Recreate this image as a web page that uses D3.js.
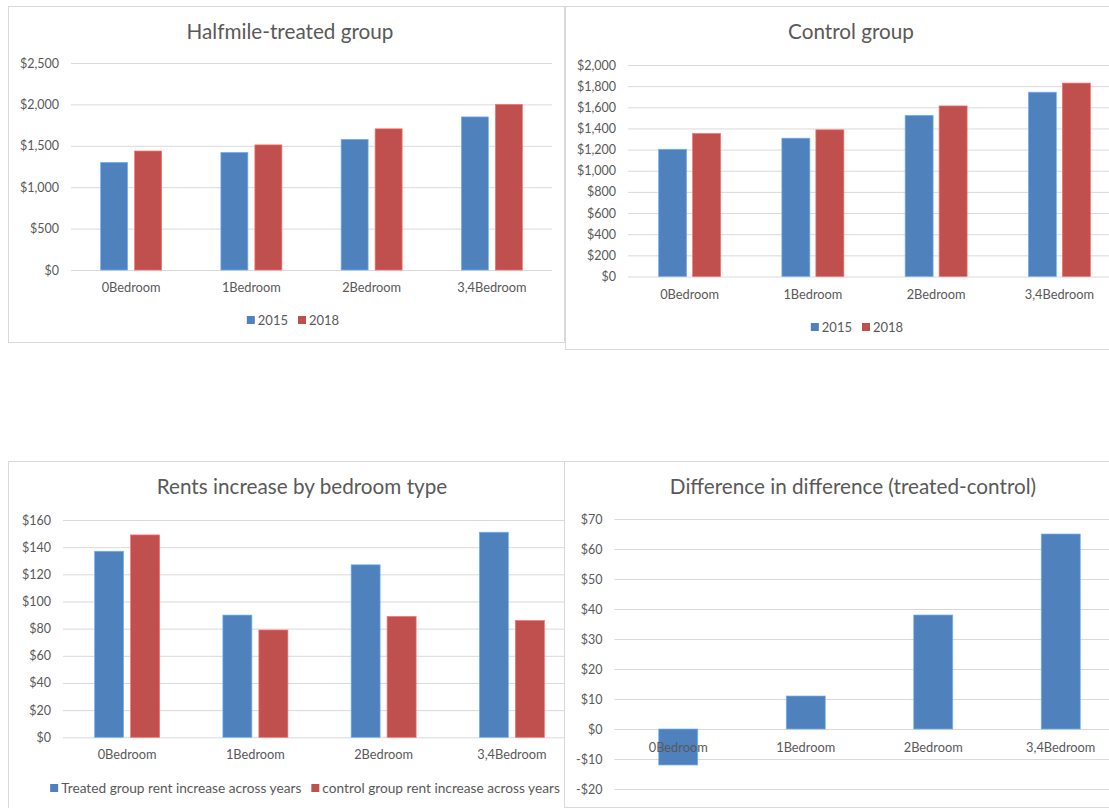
<!DOCTYPE html>
<html>
<head>
<meta charset="utf-8">
<script src="https://cdn.jsdelivr.net/npm/d3@7"></script>
<style>
  body { margin: 0; background: #fff; }
  svg text { font-family: Lato, "Open Sans", sans-serif; fill: #595959; }
</style>
</head>
<body>
<svg id="chart" width="1109" height="808"></svg>
<script>
// values
var categories = ["0Bedroom", "1Bedroom", "2Bedroom", "3,4Bedroom"];
var years = ["2015", "2018"];
var treated2015 = [1300, 1421, 1578, 1849];
var treated2018 = [1437, 1511, 1705, 2000];
var control2015 = [1203, 1308, 1524, 1743];
var control2018 = [1352, 1387, 1613, 1829];
var increaseNames = ["Treated group rent increase across years", "control group rent increase across years"];
var increaseTreated = [137, 90, 127, 151];
var increaseControl = [149, 79, 89, 86];
var diffInDiff = [-12, 11, 38, 65];

var treatedTicks = [0, 500, 1000, 1500, 2000, 2500];
var controlTicks = [0, 200, 400, 600, 800, 1000, 1200, 1400, 1600, 1800, 2000];
var increaseTicks = [0, 20, 40, 60, 80, 100, 120, 140, 160];
var diffTicks = [-20, -10, 0, 10, 20, 30, 40, 50, 60, 70];

var blue = "#4f81bd", red = "#c0504d";

var svg = d3.select("#chart");

function money(v) {
  return (v < 0 ? "-" : "") + "$" + d3.format(",")(Math.abs(v));
}

function drawPanel(p) {
  var g = svg.append("g");
  g.append("rect")
    .attr("x", p.box[0] + 0.5).attr("y", p.box[1] + 0.5)
    .attr("width", p.box[2]).attr("height", p.box[3])
    .attr("fill", "#fff").attr("stroke", "#d9d9d9");

  g.append("text")
    .attr("x", p.titleX).attr("y", p.titleY)
    .attr("dy", "0.35em")
    .style("font-size", "20.7px")
    .style("text-anchor", "middle")
    .text(p.title);

  var y = d3.scaleLinear()
    .domain([p.ticks[0], p.ticks[p.ticks.length - 1]])
    .range([p.bottom, p.top]);
  var x = d3.scaleBand().domain(categories).range([p.left, p.right]);
  var names = p.series.map(function (s) { return s.name; });
  var xs = d3.scaleBand().domain(names)
    .range([-p.groupWidth / 2, p.groupWidth / 2])
    .paddingInner(p.gap);

  var yAxis = g.append("g")
    .attr("transform", "translate(" + p.left + ",0)")
    .call(d3.axisLeft(y).tickValues(p.ticks).tickFormat(money)
      .tickSize(-(p.right - p.left)).tickPadding(12));
  yAxis.select(".domain").remove();
  yAxis.selectAll("line").attr("stroke", "#d9d9d9");
  yAxis.selectAll("text").style("font-size", "12.5px").attr("fill", "#595959");

  p.series.forEach(function (s) {
    g.append("g").selectAll("rect")
      .data(s.values)
      .enter().append("rect")
      .attr("x", function (d, i) { return x(categories[i]) + x.bandwidth() / 2 + xs(s.name); })
      .attr("y", function (d) { return y(Math.max(0, d)); })
      .attr("width", xs.bandwidth())
      .attr("height", function (d) { return Math.abs(y(d) - y(0)); })
      .attr("fill", s.color)
      .attr("stroke", d3.color(s.color).brighter(0.9))
      .attr("stroke-width", 0.7);
  });

  var xAxis = g.append("g")
    .attr("transform", "translate(0," + y(0) + ")")
    .call(d3.axisBottom(x).tickSize(0).tickPadding(p.labelPad));
  xAxis.select(".domain").remove();
  xAxis.selectAll("text").style("font-size", "12.8px").attr("fill", "#595959");

  if (p.legendY) {
    var leg = g.append("g");
    var cx = 0;
    p.series.forEach(function (s, i) {
      if (i > 0) cx += 10;
      leg.append("rect").attr("x", cx).attr("y", -4).attr("width", 8).attr("height", 8).attr("fill", s.color);
      var t = leg.append("text").attr("x", cx + 11).attr("y", 0).attr("dy", "0.35em")
        .style("font-size", p.legendSize).text(s.name);
      cx += 11 + t.node().getComputedTextLength();
    });
    leg.attr("transform", "translate(" + (p.legendX - cx / 2) + "," + p.legendY + ")");
  }
}

drawPanel({
  box: [8, 6, 556, 336], title: "Halfmile-treated group", titleX: 290, titleY: 32,
  left: 71, right: 552, top: 63, bottom: 270, ticks: treatedTicks,
  groupWidth: 61, gap: 7 / 34, labelPad: 13,
  series: [{ name: years[0], values: treated2015, color: blue },
           { name: years[1], values: treated2018, color: red }],
  legendX: 293, legendY: 320, legendSize: "13px"
});

drawPanel({
  box: [565, 6, 580, 343], title: "Control group", titleX: 851, titleY: 32,
  left: 628, right: 1121, top: 65, bottom: 276.5, ticks: controlTicks,
  groupWidth: 62, gap: 6 / 34, labelPad: 13,
  series: [{ name: years[0], values: control2015, color: blue },
           { name: years[1], values: control2018, color: red }],
  legendX: 857, legendY: 327, legendSize: "13px"
});

drawPanel({
  box: [8, 461, 592, 360], title: "Rents increase by bedroom type", titleX: 302, titleY: 487,
  left: 63, right: 576, top: 520, bottom: 737.3, ticks: increaseTicks,
  groupWidth: 65, gap: 7 / 36, labelPad: 13,
  series: [{ name: increaseNames[0], values: increaseTreated, color: blue },
           { name: increaseNames[1], values: increaseControl, color: red }],
  legendX: 305, legendY: 788, legendSize: "13.7px"
});

drawPanel({
  box: [564, 461, 580, 346], title: "Difference in difference (treated-control)", titleX: 853, titleY: 487,
  left: 614.5, right: 1124.5, top: 519, bottom: 789, ticks: diffTicks,
  groupWidth: 39, gap: 0, labelPad: 14,
  series: [{ name: "diff", values: diffInDiff, color: blue }]
});
</script>
</body>
</html>
